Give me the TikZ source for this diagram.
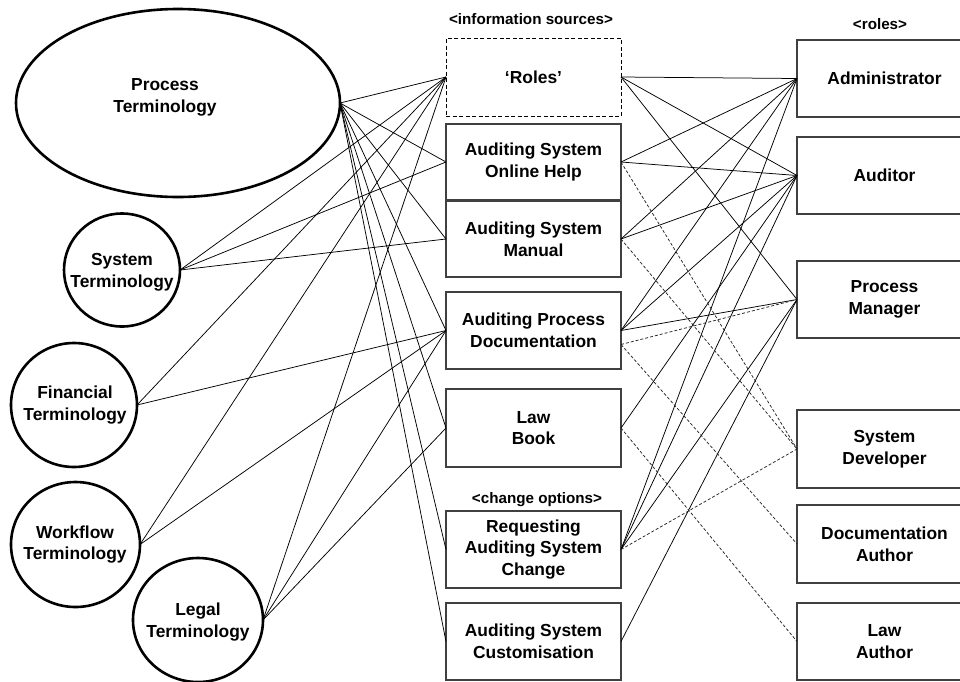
\documentclass[tikz,border=0pt]{standalone}
\usepackage{fontspec}
\setmainfont{Liberation Sans}
\usetikzlibrary{shapes.geometric}

\begin{document}
\begin{tikzpicture}[x=1pt,y=-1pt,
  every node/.style={font=\bfseries\fontsize{17.4}{21.8}\selectfont, align=center, inner sep=0pt, outer sep=0pt},
  term/.style={ellipse, draw, line width=2.6pt},
  box/.style={rectangle, draw=black!75, line width=1.3pt, minimum width=175pt},
  ghostbox/.style={box, draw=black, line width=1pt, dash pattern=on 4pt off 2.5pt},
  tag/.style={font=\bfseries\fontsize{15.2}{18}\selectfont},
  link/.style={line width=0.75pt},
  dlink/.style={line width=0.75pt, black!85, dash pattern=on 3pt off 2pt}
]
\clip (0,0) rectangle (960,681);
\fill[white] (0,0) rectangle (960,681);

% terminology areas
\node[term, minimum width=324pt, minimum height=188pt] (pt) at (178,103) {};
\node (ptx) at (165,97) {Process\\Terminology};
\node[term, minimum width=116pt, minimum height=113pt] (sys) at (122,270) {};
\node (sysx) at (122,272) {System\\Terminology};
\node[term, minimum width=126pt, minimum height=124pt] (fin) at (74,405) {};
\node (finx) at (75,405) {Financial\\Terminology};
\node[term, minimum width=129pt, minimum height=125pt] (wf) at (75.5,544.5) {};
\node (wfx) at (75,544.5) {Workflow\\Terminology};
\node[term, minimum width=130pt, minimum height=124pt] (leg) at (198,620) {};
\node (legx) at (198,622) {Legal\\Terminology};

% information sources and change options
\node[tag] (srctag) at (531,19) {<information sources>};
\node[ghostbox, minimum height=78pt] (roles) at (533.5,77) {‘Roles’};
\node[box, minimum height=76pt] (help) at (533.5,162) {Auditing System\\Online Help};
\node[box, minimum height=76pt] (man) at (533.5,239) {Auditing System\\Manual};
\node[box, minimum height=77pt] (pd) at (533.5,330.5) {Auditing Process\\Documentation};
\node[box, minimum height=78pt] (law) at (533.5,428) {Law\\Book};
\node[tag] (chgtag) at (537,500) {<change options>};
\node[box, minimum height=77pt] (req) at (533.5,549.5) {Requesting\\Auditing System\\Change};
\node[box, minimum height=77pt] (cust) at (533.5,641.5) {Auditing System\\Customisation};

% roles
\node[tag] (roletag) at (880,24) {<roles>};
\node[box, minimum height=77pt] (adm) at (884.5,78.5) {Administrator};
\node[box, minimum height=77pt] (aud) at (884.5,175.5) {Auditor};
\node[box, minimum height=77pt] (pm) at (884.5,299.5) {Process\\Manager};
\node[box, minimum height=78pt] (sd) at (884.5,449) {System\\Developer};
\node[box, minimum height=78pt] (da) at (884.5,544) {Documentation\\Author};
\node[box, minimum height=77pt] (la) at (884.5,641.5) {Law\\Author};

% second attachment point for the dashed links of the process documentation
\coordinate (pdd) at ([yshift=-14pt]pd.east);

% terminology -> information sources
\foreach \t in {roles,help,man,pd,law,req,cust} \draw[link] (pt.east) -- (\t.west);
\foreach \t in {roles,help,man} \draw[link] (sys.east) -- (\t.west);
\foreach \t in {roles,pd} \draw[link] (fin.east) -- (\t.west);
\foreach \t in {roles,pd} \draw[link] (wf.east) -- (\t.west);
\foreach \t in {roles,pd,law} \draw[link] (leg.east) -- (\t.west);

% information sources -> roles
\foreach \r in {adm,aud,pm} \draw[link] (roles.east) -- (\r.west);
\foreach \r in {adm,aud} \draw[link] (help.east) -- (\r.west);
\foreach \r in {adm,aud} \draw[link] (man.east) -- (\r.west);
\foreach \r in {adm,aud,pm} \draw[link] (pd.east) -- (\r.west);
\draw[link] (law.east) -- (aud.west);
\foreach \r in {adm,aud,pm} \draw[link] (req.east) -- (\r.west);
\draw[link] (cust.east) -- (pm.west);

% dashed links
\draw[dlink] (help.east) -- (sd.west);
\draw[dlink] (man.east) -- (sd.west);
\draw[dlink] (req.east) -- (sd.west);
\draw[dlink] (pdd) -- (pm.west);
\draw[dlink] (pdd) -- (da.west);
\draw[dlink] (law.east) -- (la.west);
\end{tikzpicture}
\end{document}
